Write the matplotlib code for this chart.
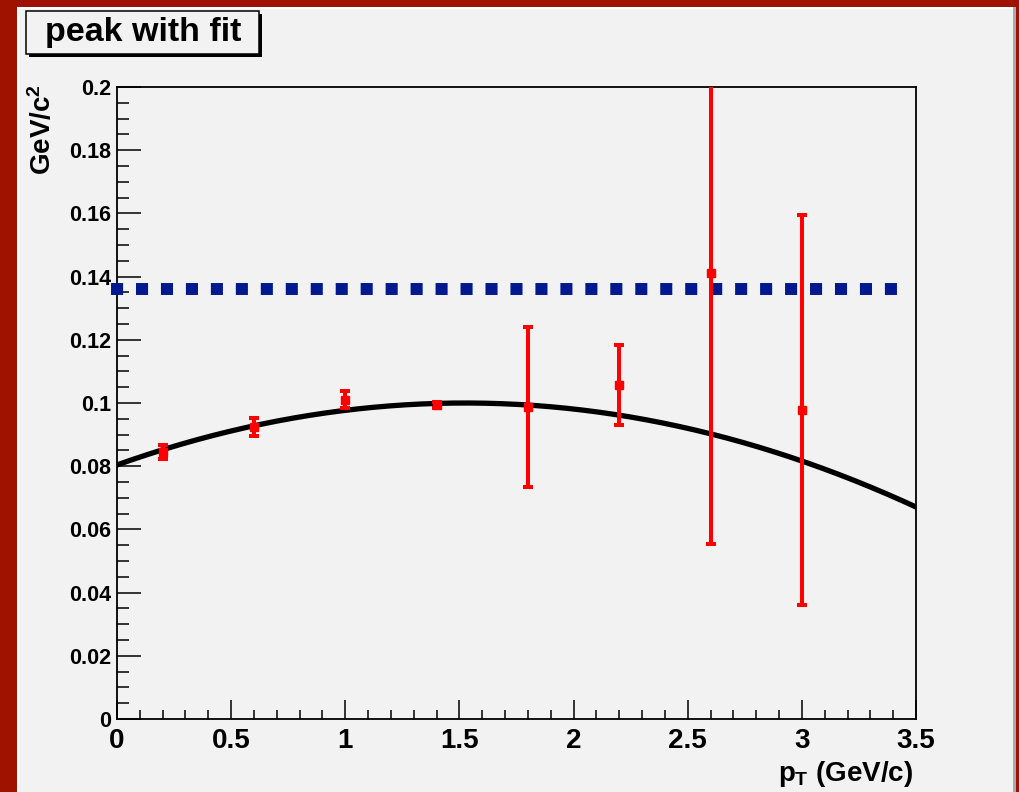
import numpy as np
import matplotlib.pyplot as plt
from matplotlib.patches import Rectangle

plt.rcParams['font.family'] = ['Liberation Sans', 'DejaVu Sans']
plt.rcParams['font.weight'] = 'bold'
plt.rcParams['mathtext.fontset'] = 'custom'
plt.rcParams['mathtext.rm'] = 'Liberation Sans:bold'
plt.rcParams['mathtext.bf'] = 'Liberation Sans:bold'
plt.rcParams['mathtext.it'] = 'Liberation Sans:bold'

# peak position per pT bin
pt = [0.2, 0.6, 1.0, 1.4, 1.8, 2.2, 2.6, 3.0]
peak = [0.0845, 0.0924, 0.1010, 0.0994, 0.0987, 0.1057, 0.1410, 0.0978]
peak_err = [0.0022, 0.0028, 0.0027, 0.0010, 0.0252, 0.0127, 0.0855, 0.0617]

# pol2 fit parameters
fit_p0, fit_p1, fit_p2 = 0.0804, 0.02571, -0.008432
fit_range = (0.0, 3.5)

# reference mass line
m_ref = 0.136

W, H = 1019, 792
fig = plt.figure(figsize=(W / 100, H / 100), dpi=100)
fig.patch.set_facecolor('#a01200')

# canvas
fig.patches.append(Rectangle((17 / W, 0), (1016 - 17) / W, 1 - 7 / H, transform=fig.transFigure,
                             facecolor='#aaaaaa', edgecolor='none', zorder=-3))
fig.patches.append(Rectangle((17 / W, 0), (1013 - 17) / W, 1 - 7 / H, transform=fig.transFigure,
                             facecolor='#ffffff', edgecolor='none', zorder=-2))
fig.patches.append(Rectangle((19 / W, 0), (1013 - 19) / W, 1 - 9 / H, transform=fig.transFigure,
                             facecolor='#f2f2f2', edgecolor='none', zorder=-1))

ax = fig.add_axes([117 / W, 1 - 719 / H, (916 - 117) / W, (719 - 87) / H])
ax.set_facecolor('#f2f2f2')

xs = np.linspace(fit_range[0], fit_range[1], 300)
ax.plot(xs, fit_p0 + fit_p1 * xs + fit_p2 * xs ** 2, color='black', lw=3.8, zorder=3)

ax.axhline(m_ref, xmax=0.99, color='#00198f', lw=8.6, dashes=(0.01, 2.08),
           dash_capstyle='projecting', clip_on=False, zorder=4)

ax.errorbar(pt, peak, yerr=peak_err, fmt='s', color='#ff0000', ms=5.8, elinewidth=2.9,
            capsize=3.5, capthick=2.9, zorder=5)

ax.set_xlim(0, 3.5)
ax.set_ylim(0, 0.2)
ax.set_xticks(np.arange(0, 3.51, 0.5))
ax.set_xticklabels(['0', '0.5', '1', '1.5', '2', '2.5', '3', '3.5'])
ax.set_xticks(np.arange(0, 3.51, 0.1), minor=True)
ax.set_yticks(np.arange(0, 0.201, 0.02))
ax.set_yticklabels(['0', '0.02', '0.04', '0.06', '0.08', '0.1', '0.12', '0.14', '0.16', '0.18', '0.2'])
ax.set_yticks(np.arange(0, 0.201, 0.005), minor=True)

ax.tick_params(axis='x', which='major', direction='in', length=13.7, width=1.1, pad=6.5, labelsize=20)
ax.tick_params(axis='x', which='minor', direction='in', length=6.8, width=1.1)
ax.tick_params(axis='y', which='major', direction='in', length=17.3, width=1.1, pad=4.3, labelsize=15.5)
ax.tick_params(axis='y', which='minor', direction='in', length=8.6, width=1.1)
for lab in ax.get_xticklabels() + ax.get_yticklabels():
    lab.set_fontweight('bold')
for sp in ax.spines.values():
    sp.set_linewidth(1.3)

fig.text(913 / W, 1 - 781 / H, r'$p_{\rm T}$ (GeV/c)', ha='right', va='baseline', fontsize=20,
         fontweight='bold')
fig.text(43 / W, 1 - 84 / H, r'GeV/c$^2$', rotation=90, ha='center', va='top', fontsize=20,
         fontweight='bold')

# title box with shadow
fig.patches.append(Rectangle((29 / W, 1 - 57 / H), (259 - 26) / W, (54 - 11) / H,
                             transform=fig.transFigure, facecolor='#000000', edgecolor='none', zorder=5))
fig.patches.append(Rectangle((26 / W, 1 - 54 / H), (259 - 26) / W, (54 - 11) / H,
                             transform=fig.transFigure, facecolor='#f2f2f2', edgecolor='black',
                             lw=1.1, zorder=6))
fig.text(143 / W, 1 - 33 / H, 'peak with fit', ha='center', va='center', fontsize=24.5,
         fontweight='bold', zorder=7)

fig.savefig('out.png', dpi=100, facecolor=fig.get_facecolor())
